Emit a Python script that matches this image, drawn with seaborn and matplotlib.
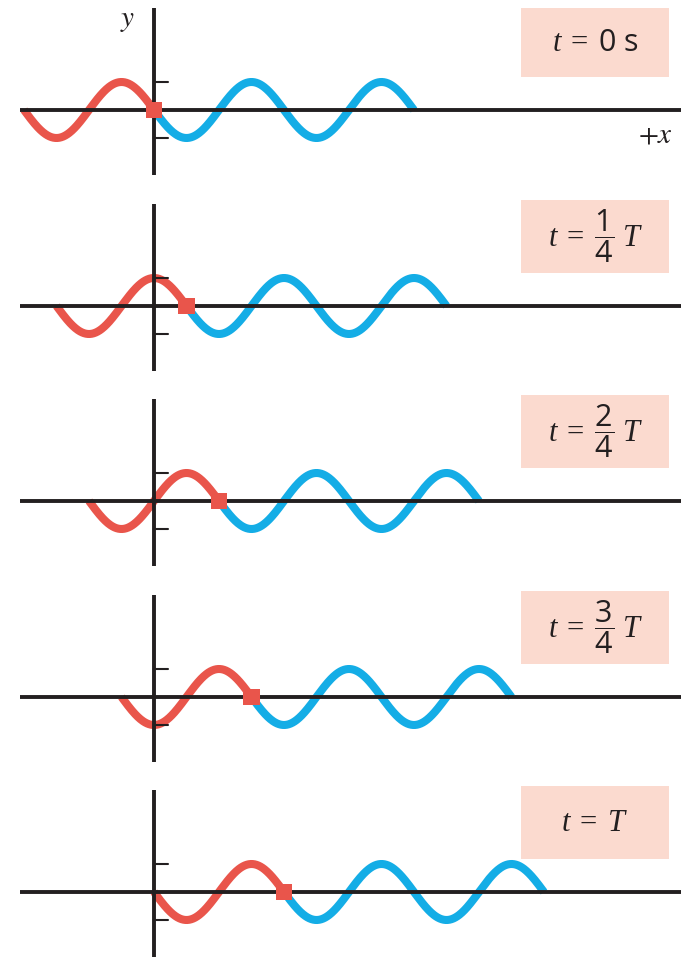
import matplotlib

matplotlib.use("Agg")
import matplotlib.pyplot as plt
import numpy as np
import pandas as pd
import seaborn as sns
from matplotlib.patches import Rectangle

# snapshot data: how far the wave has travelled (in wavelengths) and the label
phase_shifts = [0.0, 0.25, 0.5, 0.75, 1.0]
time_labels = [
    r"$t\;=\;\mathsf{0\ s}$",
    r"$t\;=\;\dfrac{\mathsf{1}}{\mathsf{4}}\;T$",
    r"$t\;=\;\dfrac{\mathsf{2}}{\mathsf{4}}\;T$",
    r"$t\;=\;\dfrac{\mathsf{3}}{\mathsf{4}}\;T$",
    r"$t\;=\;T$",
]
red_wavelengths = 1.0   # the part of the wave already travelled past the source
blue_wavelengths = 2.0  # the part ahead of the marked point
amplitude = 1.0
tick_levels = [1.0, -1.0]

RED = "#E9554B"
BLUE = "#14ADE6"
PINK = "#FBDACF"
INK = "#231F20"

# layout (pixels)
W, H = 681, 957
PX_LAMBDA, PX_AMP, ORIGIN_X = 130, 28, 154
BAND = 195.5
axis_rows_px = [110, 306, 501, 697, 892]
box_tops = [3.64, 3.8, 3.8, 3.8, 3.8]

sns.set_style("white")
plt.rcParams["mathtext.fontset"] = "custom"
plt.rcParams["mathtext.rm"] = "Liberation Serif"
plt.rcParams["mathtext.sf"] = "Open Sans"
plt.rcParams["mathtext.it"] = "Liberation Serif:italic"

fig = plt.figure(figsize=(W / 100, H / 100), dpi=100)

for i, (shift, label) in enumerate(zip(phase_shifts, time_labels)):
    top = axis_rows_px[i] - 110
    ax = fig.add_axes([0, 1 - (top + BAND) / H, 1, BAND / H])

    # axes of the wave diagram
    ax.plot([(20 - ORIGIN_X) / PX_LAMBDA, (W - ORIGIN_X) / PX_LAMBDA], [0, 0],
            color=INK, lw=2.8, zorder=3, solid_capstyle="butt")
    ax.plot([0, 0], [102 / PX_AMP, -65 / PX_AMP], color=INK, lw=2.8, zorder=3,
            solid_capstyle="butt")
    for lvl in tick_levels:
        ax.plot([0, 14 / PX_LAMBDA], [lvl, lvl], color=INK, lw=1.5, zorder=3)

    # wave segments
    xr = np.linspace(shift - red_wavelengths, shift, 200)
    xb = np.linspace(shift, shift + blue_wavelengths, 400)
    red = pd.DataFrame({"x": xr, "y": -amplitude * np.sin(2 * np.pi * (xr - shift))})
    blue = pd.DataFrame({"x": xb, "y": -amplitude * np.sin(2 * np.pi * (xb - shift))})
    sns.lineplot(data=red, x="x", y="y", ax=ax, color=RED, lw=5.8, zorder=2,
                 solid_capstyle="butt")
    sns.lineplot(data=blue, x="x", y="y", ax=ax, color=BLUE, lw=5.8, zorder=2,
                 solid_capstyle="butt")
    sns.scatterplot(x=[shift], y=[0], ax=ax, marker="s", s=135, color=RED,
                    edgecolor="none", zorder=5)
    ax.set_xlim(-ORIGIN_X / PX_LAMBDA, (W - ORIGIN_X) / PX_LAMBDA)
    ax.set_ylim(-(BAND - 110) / PX_AMP, 110 / PX_AMP)
    ax.axis("off")

    # time label box
    bx0, bx1 = (521 - ORIGIN_X) / PX_LAMBDA, (669 - ORIGIN_X) / PX_LAMBDA
    by0 = 33 / PX_AMP
    ax.add_patch(Rectangle((bx0, by0), bx1 - bx0, box_tops[i] - by0,
                           facecolor=PINK, edgecolor="none", zorder=1))
    ax.text((bx0 + bx1) / 2, (by0 + box_tops[i]) / 2, label, fontsize=22,
            ha="center", va="center", color=INK, zorder=4)

    if i == 0:
        ax.text((128 - ORIGIN_X) / PX_LAMBDA, 90 / PX_AMP, r"$y$", fontsize=21,
                math_fontfamily="stix", ha="center", va="center", color=INK)
        ax.text((655 - ORIGIN_X) / PX_LAMBDA, -24 / PX_AMP, r"$+x$", fontsize=21,
                math_fontfamily="stix", ha="center", va="center", color=INK)

fig.savefig("out.png", dpi=100)
plt.close()
